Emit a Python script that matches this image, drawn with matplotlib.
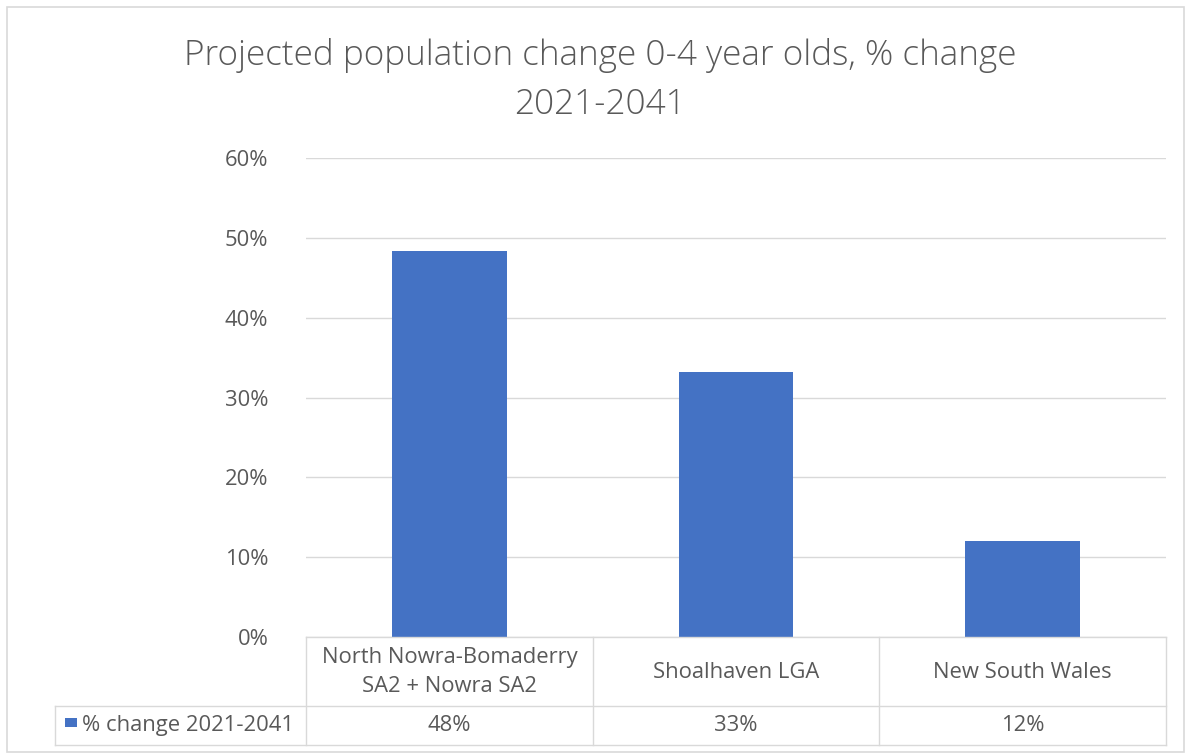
import matplotlib
matplotlib.use("Agg")
import matplotlib.pyplot as plt
from matplotlib.patches import Rectangle
from matplotlib.lines import Line2D
from matplotlib.transforms import blended_transform_factory
from matplotlib.ticker import PercentFormatter

# Chart data
categories = ["North Nowra-Bomaderry\nSA2 + Nowra SA2", "Shoalhaven LGA", "New South Wales"]
series_name = "% change 2021-2041"
pct_change = [48.3, 33.2, 12.0]
y_ticks = [0, 10, 20, 30, 40, 50, 60]
title = "Projected population change 0-4 year olds, % change\n2021-2041"

W, H = 1187, 753
DPI = 100
BAR_BLUE = "#4472C4"
TEXT_GRAY = "#595959"
LINE_GRAY = "#D9D9D9"
FONT = ["Open Sans", "DejaVu Sans"]
FS = 15.8

plt.rcParams["font.family"] = FONT

fig = plt.figure(figsize=(W / DPI, H / DPI), dpi=DPI)
fig.patch.set_facecolor("white")


def fx(px):
    return px / W


def fy(py):
    return 1 - py / H


# outer chart frame
fig.add_artist(Rectangle((fx(7), fy(752)), fx(1184) - fx(7), fy(7) - fy(752),
                         transform=fig.transFigure, fill=False,
                         edgecolor=LINE_GRAY, linewidth=1.2))

# plot area
left, right, top, bottom = 306, 1166, 158, 637
ax = fig.add_axes([fx(left), fy(bottom), fx(right) - fx(left), fy(top) - fy(bottom)])
x = list(range(len(categories)))
ax.bar(x, pct_change, width=0.40, color=BAR_BLUE, zorder=3)
ax.set_xlim(-0.5, len(categories) - 0.5)
ax.set_ylim(0, 60)
ax.set_yticks(y_ticks)
ax.yaxis.set_major_formatter(PercentFormatter(decimals=0))
ax.tick_params(axis="y", length=0, pad=27, labelsize=FS, labelcolor=TEXT_GRAY)
ax.tick_params(axis="x", length=0, labelbottom=False)
ax.grid(axis="y", color=LINE_GRAY, linewidth=1.0, zorder=0)
for s in ax.spines.values():
    s.set_visible(False)
ax.set_facecolor("none")

fig.text(fx(600), fy(80), title, ha="center", va="center", fontsize=25.3,
         color=TEXT_GRAY, linespacing=1.55, fontweight="light")

# data table under the axis
tr = blended_transform_factory(ax.transData, fig.transFigure)
row1_top, row1_bot, row2_bot = 637, 706, 745
label_left = 55
n = len(categories)

def hline(x0, x1, ypx, transform):
    fig.add_artist(Line2D([x0, x1], [fy(ypx), fy(ypx)], transform=transform,
                          color=LINE_GRAY, linewidth=1.0))

def vline(xv, y0px, y1px, transform):
    fig.add_artist(Line2D([xv, xv], [fy(y0px), fy(y1px)], transform=transform,
                          color=LINE_GRAY, linewidth=1.0))

hline(-0.5, n - 0.5, row1_top, tr)
hline(fx(label_left), fx(right), row1_bot, fig.transFigure)
hline(fx(label_left), fx(right), row2_bot, fig.transFigure)
for b in range(n + 1):
    vline(b - 0.5, row1_top, row2_bot, tr)
vline(fx(label_left), row1_bot, row2_bot, fig.transFigure)

for i, (cat, val) in enumerate(zip(categories, pct_change)):
    fig.text(i, fy((row1_top + row1_bot) / 2 + 0.5), cat, transform=tr, ha="center",
             va="center", fontsize=FS, color=TEXT_GRAY, linespacing=1.5)
    fig.text(i, fy((row1_bot + row2_bot) / 2), f"{val:.0f}%", transform=tr,
             ha="center", va="center", fontsize=FS, color=TEXT_GRAY)

# legend key in the row header
fig.add_artist(Rectangle((fx(65), fy(727)), fx(77) - fx(65), fy(718) - fy(727),
                         transform=fig.transFigure, facecolor=BAR_BLUE,
                         edgecolor="none"))
fig.text(fx(82), fy((row1_bot + row2_bot) / 2), series_name, ha="left",
         va="center", fontsize=FS, color=TEXT_GRAY)

fig.savefig("out.png", dpi=DPI, facecolor="white")
